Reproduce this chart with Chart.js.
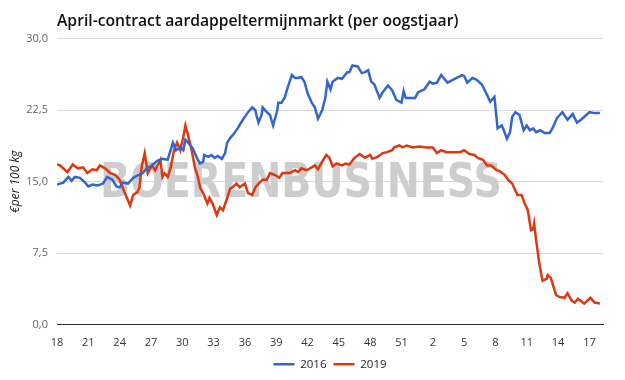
<!DOCTYPE html>
<html>
<head>
<meta charset="utf-8">
<script src="https://cdn.jsdelivr.net/npm/chart.js@4"></script>
<style>
  body { margin: 0; background: #fff; }
  #wrap { width: 625px; height: 380px; }
</style>
</head>
<body>
<div id="wrap"><canvas id="chart"></canvas></div>
<script>
// week numbers shown on the x axis (every 3rd week, from week 18 on)
const weekLabels = [18, 21, 24, 27, 30, 33, 36, 39, 42, 45, 48, 51, 2, 5, 8, 11, 14, 17];

// x = weeks since week 18, y = price in euro per 100 kg
const t2016 = [0,0.6,1.1,1.4,1.7,2.2,2.7,3.0,3.4,3.9,4.4,4.8,5.3,5.7,6.0,6.3,6.8,7.3,7.8,8.2,
  8.6,9.1,9.6,10.1,10.6,11.1,11.4,11.8,12.1,12.3,12.5,13.0,13.4,13.7,14.0,14.1,14.5,14.8,15.1,15.4,
  15.8,16.1,16.3,16.6,17.0,17.3,17.8,18.3,18.7,19.0,19.1,19.3,19.6,19.7,20.1,20.4,20.7,21.1,21.2,21.5,
  21.8,22.1,22.5,22.8,23.1,23.4,23.7,24.0,24.4,24.7,25.0,25.4,25.7,25.9,26.2,26.4,26.9,27.3,27.8,28.0,
  28.3,28.8,29.2,29.5,29.8,30.1,30.4,30.9,31.2,31.7,32.1,32.5,33.0,33.2,33.4,33.8,34.3,34.6,35.2,35.7,
  36.0,36.4,36.8,37.4,38.1,38.8,39.0,39.3,39.8,40.2,40.7,41.2,41.5,41.9,42.2,42.6,42.8,43.1,43.4,43.6,
  43.9,44.3,44.7,45.0,45.3,45.6,45.9,46.3,46.7,47.2,47.5,47.9,48.4,48.9,49.4,49.8,50.2,50.7,51.0,51.5,52.0];
const v2016 = [14.7,14.9,15.5,15.1,15.5,15.4,14.9,14.5,14.7,14.6,14.8,15.5,15.2,14.5,14.4,14.9,14.8,15.4,15.7,15.9,
  16.4,16.7,17.2,17.4,17.3,19.1,18.3,18.6,18.3,19.4,19.2,18.5,17.5,16.9,17.1,17.8,17.6,17.8,17.5,17.7,
  17.4,18.0,19.1,19.6,20.1,20.6,21.5,22.3,22.8,22.5,22.0,21.2,22.0,22.8,22.3,22.0,20.9,22.5,23.3,23.3,
  23.8,24.9,26.2,25.9,25.9,26.0,25.5,24.3,23.3,22.8,21.6,22.5,23.8,25.5,24.7,25.5,25.9,25.8,26.5,26.5,
  27.2,27.1,26.4,26.5,26.7,25.5,25.2,23.8,24.4,25.1,24.6,23.6,23.3,24.5,23.8,23.8,23.8,24.4,24.7,25.5,
  25.3,25.4,26.2,25.4,25.8,26.2,26.1,25.4,25.9,25.7,25.2,24.1,23.4,23.9,20.6,20.9,20.4,19.5,20.2,21.8,
  22.3,22.0,20.4,20.9,20.4,20.6,20.2,20.4,20.1,20.1,20.7,21.7,22.3,21.5,22.1,21.2,21.5,22.0,22.3,22.2,22.2];

const t2019 = [0,0.3,1.0,1.5,2.0,2.5,2.9,3.4,3.8,4.1,4.6,5.1,5.6,6.0,6.5,7.0,7.3,7.7,7.9,8.1,
  8.4,8.7,9.1,9.4,9.9,10.1,10.3,10.6,10.9,11.2,11.5,11.8,12.1,12.3,12.5,12.9,13.2,13.5,13.7,14.0,
  14.4,14.6,14.9,15.3,15.6,15.9,16.3,16.6,16.8,17.2,17.5,18.0,18.3,18.7,19.0,19.4,19.7,20.1,20.4,20.9,
  21.3,21.6,22.3,22.8,23.1,23.4,23.9,24.4,24.7,25.0,25.4,25.8,26.1,26.4,26.8,27.3,27.6,28.0,28.5,29.0,
  29.5,30.0,30.2,30.7,31.2,31.6,32.1,32.3,32.8,33.1,33.5,34.1,34.7,35.4,36.0,36.4,36.8,37.3,37.9,38.6,
  39.0,39.5,40.0,40.3,40.8,41.2,41.6,42.1,42.4,42.9,43.2,43.6,44.1,44.5,44.8,45.1,45.4,45.6,45.7,45.9,
  46.2,46.5,46.9,47.0,47.3,47.8,48.1,48.6,48.9,49.3,49.6,49.9,50.5,51.1,51.5,52.0];
const v2019 = [16.8,16.7,16.0,16.8,16.4,16.5,15.9,16.3,16.2,16.7,16.4,15.9,15.7,15.2,13.8,12.5,13.6,13.9,14.4,16.5,
  18.0,15.9,16.7,16.2,17.3,15.5,15.9,15.5,16.5,18.3,19.1,18.3,19.7,20.9,20.1,18.3,16.5,15.5,14.4,13.8,
  12.7,13.3,12.7,11.5,12.3,12.0,13.3,14.3,14.4,14.8,14.4,14.8,13.8,13.6,14.4,14.9,15.2,15.2,15.9,15.7,
  15.4,15.9,15.9,16.2,16.0,16.4,16.2,16.5,16.7,16.3,17.1,17.8,17.5,16.6,16.9,16.7,16.9,16.8,17.5,17.9,
  17.5,17.8,17.4,17.6,18.0,18.1,18.3,18.6,18.8,18.6,18.8,18.6,18.7,18.6,18.6,18.0,18.3,18.1,18.1,18.1,
  18.3,17.9,17.8,17.5,17.3,16.7,16.7,16.2,16.1,15.7,15.2,14.8,13.6,13.6,12.7,12.0,9.9,10.0,10.6,8.8,
  6.4,4.6,4.8,5.2,4.9,3.1,2.9,2.8,3.3,2.5,2.3,2.7,2.2,2.8,2.3,2.2];

const toPoints = (xs, ys) => xs.map((x, i) => ({x: x, y: ys[i]}));

// grey BOERENBUSINESS logo behind the lines
const watermark = {
  id: 'watermark',
  beforeDatasetsDraw(chart) {
    const ctx = chart.ctx;
    const text = 'BOERENBUSINESS';
    ctx.save();
    ctx.font = 'bold 48px "DejaVu Sans"';
    const w = ctx.measureText(text).width;
    ctx.translate(100, 197);
    ctx.scale(402 / w, 1);
    ctx.fillStyle = '#cdcdcd';
    ctx.textBaseline = 'alphabetic';
    ctx.fillText(text, 0, 0);
    ctx.restore();
  }
};

Chart.defaults.font.family = '"Open Sans", sans-serif';

new Chart(document.getElementById('chart'), {
  type: 'line',
  data: {
    datasets: [
      {
        label: '2016',
        data: toPoints(t2016, v2016),
        borderColor: '#3366cc',
        backgroundColor: '#3366cc',
        borderWidth: 2.5,
        pointRadius: 0,
        tension: 0
      },
      {
        label: '2019',
        data: toPoints(t2019, v2019),
        borderColor: '#dc3912',
        backgroundColor: '#dc3912',
        borderWidth: 2.5,
        pointRadius: 0,
        tension: 0
      }
    ]
  },
  options: {
    responsive: true,
    maintainAspectRatio: false,
    animation: false,
    layout: { padding: { left: 4, right: 22, top: 0, bottom: 0 } },
    scales: {
      x: {
        type: 'linear',
        min: 0,
        max: 52.3,
        afterFit: scale => { scale.height = 27; },
        grid: { display: false },
        border: { color: '#333', width: 1 },
        afterBuildTicks: axis => {
          axis.ticks = weekLabels.map((w, i) => ({value: i * 3}));
        },
        ticks: {
          color: '#333',
          font: { size: 11 },
          padding: 4,
          maxRotation: 0,
          autoSkip: false,
          callback: (v, i) => weekLabels[i]
        }
      },
      y: {
        min: 0,
        max: 30,
        afterFit: scale => { scale.width = 53; },
        border: { display: false },
        grid: {
          drawTicks: false,
          color: ctx => ctx.tick && ctx.tick.value === 0 ? '#333' : '#d9d9d9'
        },
        ticks: {
          stepSize: 7.5,
          color: '#666',
          font: { size: 11 },
          padding: 9,
          callback: v => v.toFixed(1).replace('.', ',')
        },
        title: {
          display: true,
          text: '€per 100 kg',
          color: '#222',
          font: { size: 12, style: 'italic' },
          padding: { top: 4, bottom: 0 }
        }
      }
    },
    plugins: {
      title: {
        display: true,
        text: 'April-contract aardappeltermijnmarkt (per oogstjaar)',
        align: 'start',
        fullSize: false,
        color: '#111',
        font: { size: 15.7, weight: '600' },
        padding: { top: 12, bottom: 8 }
      },
      legend: {
        position: 'bottom',
        fullSize: false,
        labels: {
          usePointStyle: true,
          pointStyle: 'line',
          pointStyleWidth: 21,
          color: '#222',
          font: { size: 11.5 },
          padding: 7
        }
      },
      tooltip: { enabled: false }
    }
  },
  plugins: [watermark]
});
</script>
</body>
</html>
